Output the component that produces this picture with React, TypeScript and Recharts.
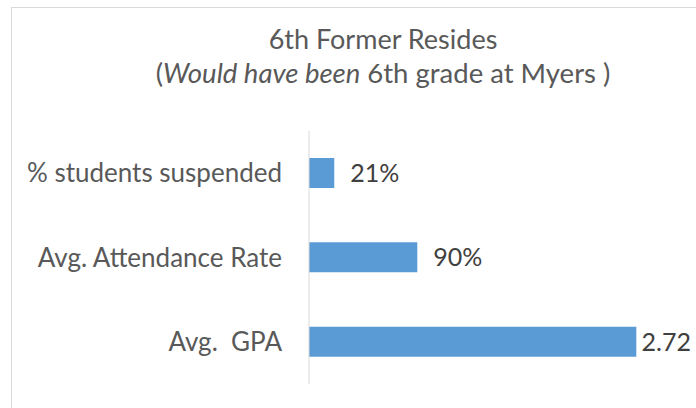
import { BarChart, Bar, XAxis, YAxis, LabelList } from "recharts";

const categories = ["% students suspended", "Avg. Attendance Rate", "Avg.\u00a0 GPA"];
const values = [0.21, 0.9, 2.72];
const valueLabels = ["21%", "90%", "2.72"];

const data = categories.map((name, i) => ({ name, value: values[i], label: valueLabels[i] }));

const font = "Lato, 'Open Sans', sans-serif";
const valueSize = 25;
const rightLimit = 691;

// value label to the right of the bar; pulled back in if it would run off the frame
function ValueLabel(props: any) {
  const { x, y, width, height, value } = props;
  const text = String(value);
  const est = text.length * valueSize * 0.56;
  let tx = x + width + 16;
  let anchor: "start" | "end" = "start";
  if (tx + est > rightLimit) {
    tx = rightLimit;
    anchor = "end";
  }
  return (
    <text
      x={tx}
      y={y + height / 2}
      dy="0.36em"
      textAnchor={anchor}
      fill="#404040"
      fontSize={valueSize}
      fontFamily={font}
    >
      {text}
    </text>
  );
}

export default function App() {
  return (
    <div
      style={{
        position: "absolute",
        left: 0,
        top: 0,
        width: 696,
        height: 408,
        overflow: "hidden",
        background: "#fff",
        fontFamily: font,
      }}
    >
      <div
        style={{
          position: "absolute",
          left: 11,
          top: 7,
          width: 720,
          height: 440,
          border: "1px solid #D9D9D9",
        }}
      />
      <svg width={696} height={110} style={{ position: "absolute", left: 0, top: 0 }}>
        <text x={383} y={49} textAnchor="middle" fontSize={27} fill="#595959" fontFamily={font}>
          6th Former Resides
        </text>
        <text x={383} y={83} textAnchor="middle" fontSize={27.5} fill="#595959" fontFamily={font}>
          (<tspan fontStyle="italic">Would have been</tspan> 6th grade at Myers )
        </text>
      </svg>
      <div style={{ position: "absolute", left: 0, top: 0 }}>
        <BarChart
          layout="vertical"
          width={696}
          height={408}
          data={data}
          margin={{ top: 131, right: 26, bottom: 24, left: 9 }}
        >
          <XAxis type="number" domain={[0, 3]} hide />
          <YAxis
            type="category"
            dataKey="name"
            width={300}
            axisLine={{ stroke: "#D9D9D9" }}
            tickLine={false}
            tickSize={0}
            tickMargin={27}
            tick={{ fill: "#595959", fontSize: 26, fontFamily: font }}
          />
          <Bar dataKey="value" fill="#5B9BD5" barSize={30} isAnimationActive={false}>
            <LabelList dataKey="label" content={ValueLabel} />
          </Bar>
        </BarChart>
      </div>
    </div>
  );
}
